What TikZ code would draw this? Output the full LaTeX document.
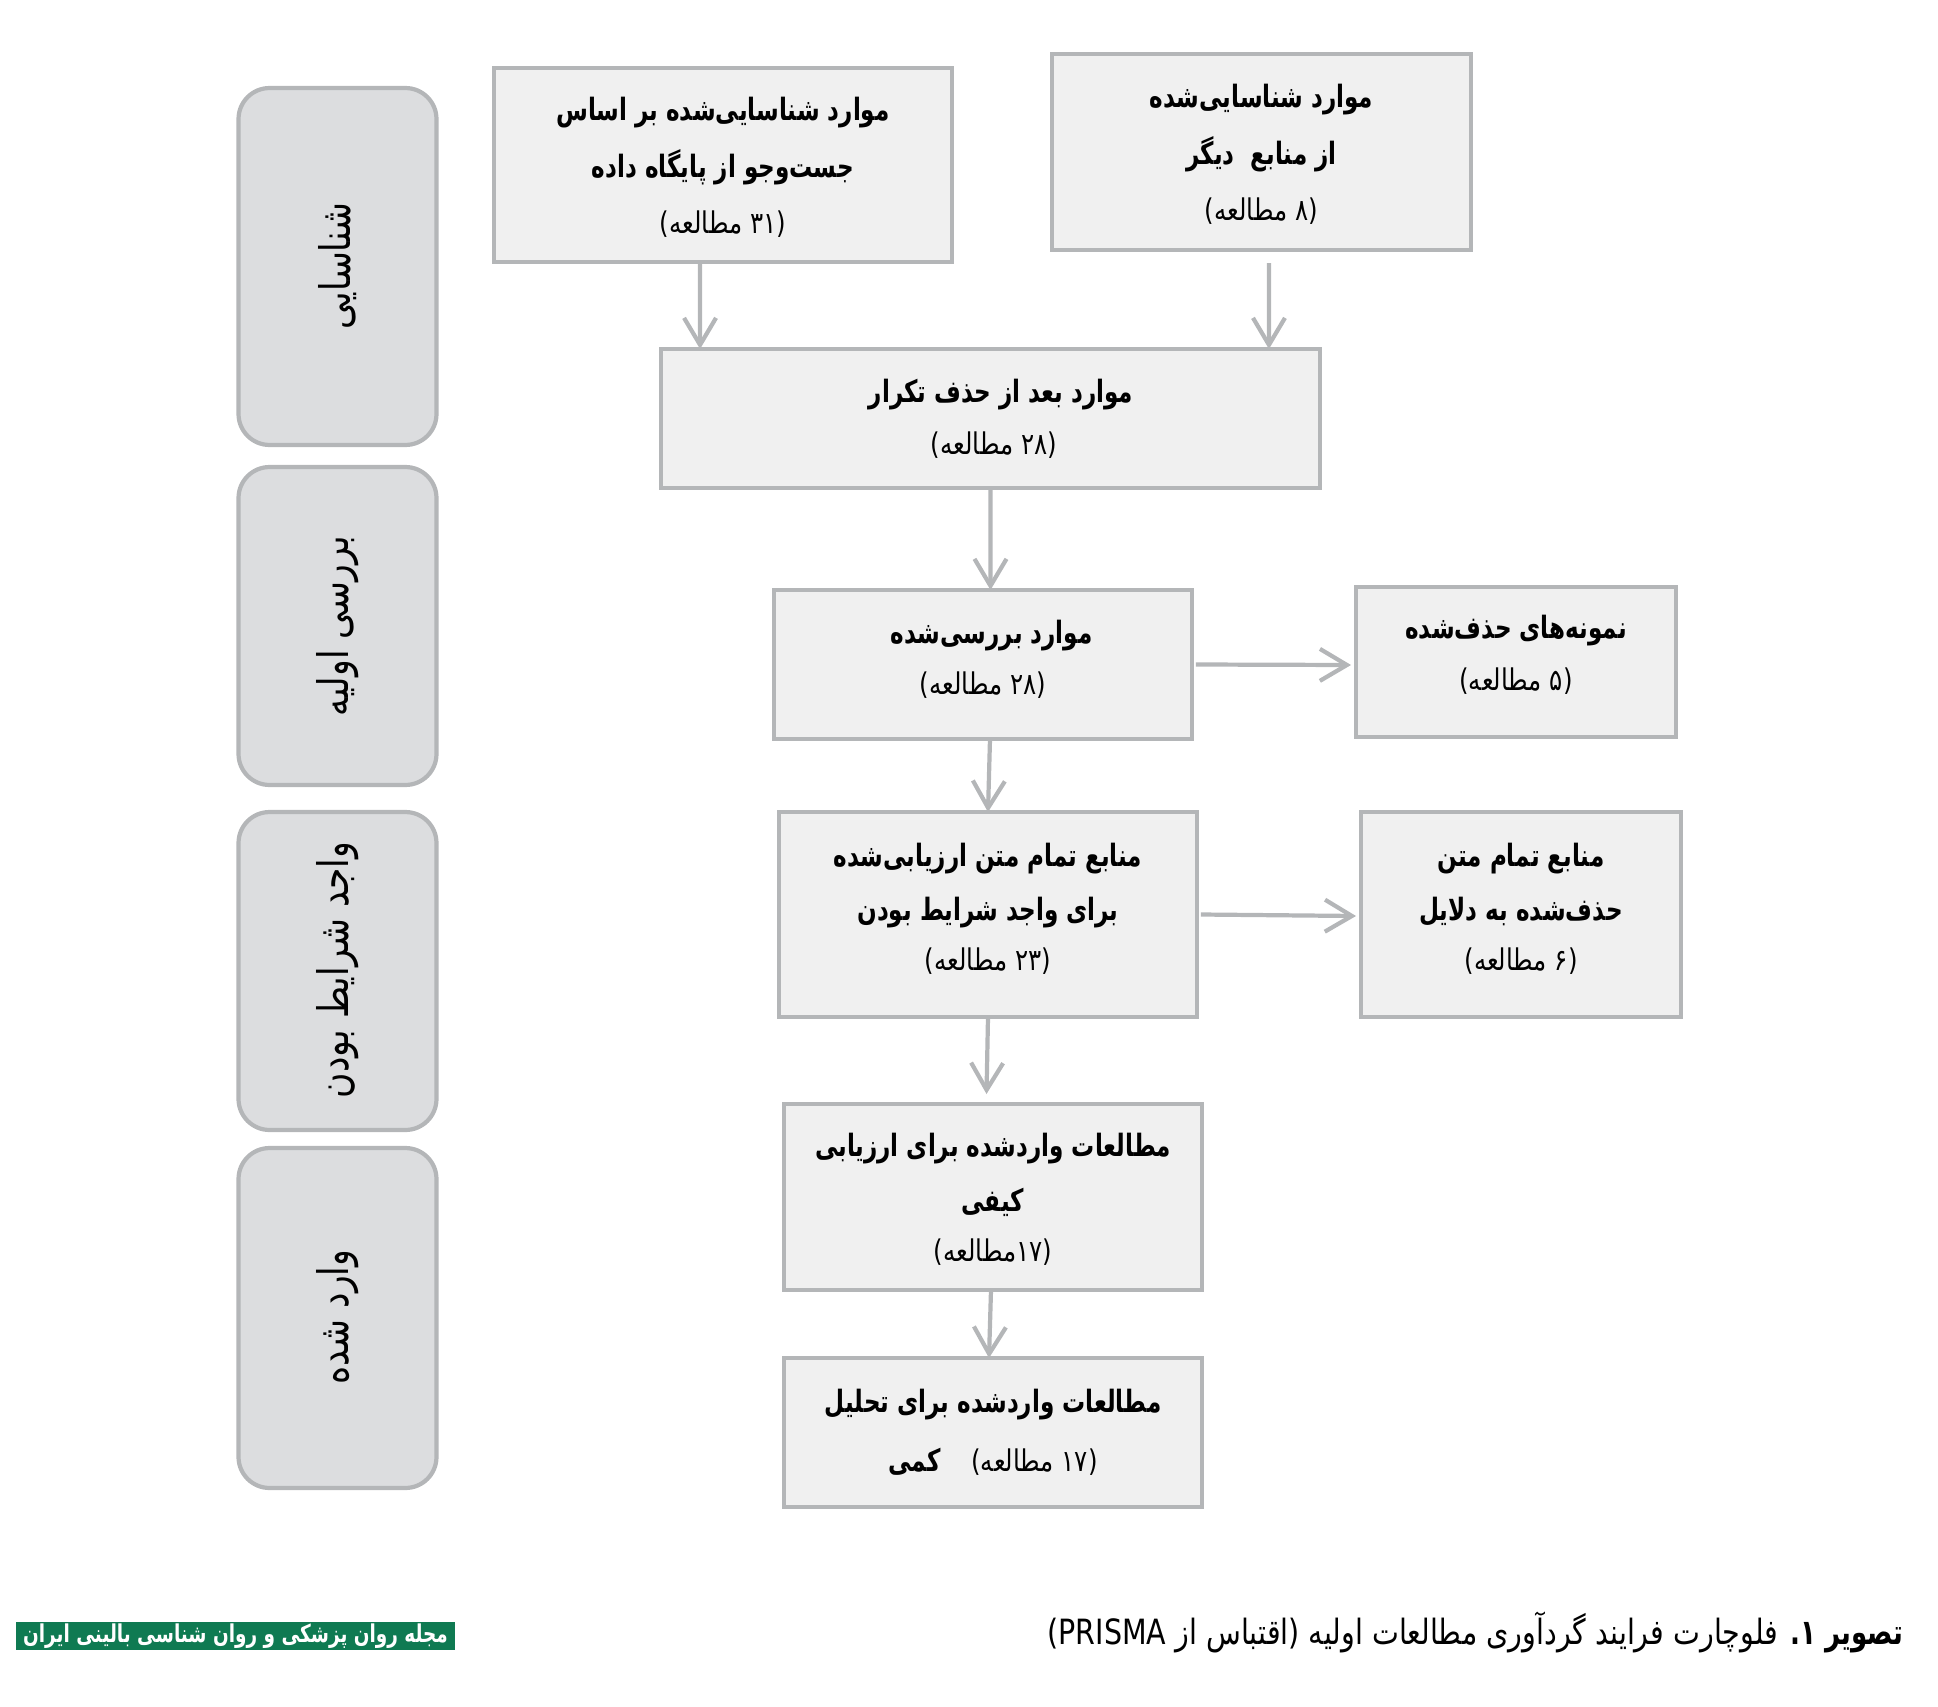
\documentclass[tikz,border=0pt]{standalone}
\usepackage{fontspec}
\usetikzlibrary{arrows.meta}
\TeXXeTstate=1
\newfontfamily\fafont[Script=Arabic,FakeStretch=0.82,BoldFeatures={FakeStretch=0.75}]{DejaVu Sans}
\definecolor{boxline}{HTML}{B4B6B8}
\definecolor{boxfill}{HTML}{F0F0F0}
\definecolor{stagefill}{HTML}{DCDDDF}
\definecolor{stripgreen}{HTML}{0F7A52}
\newcommand{\fa}[1]{\beginR #1\endR}
\newcommand{\cnt}[1]{{\fontsize{17}{15}\fafont\mdseries\beginR #1\endR}}
\newcommand{\num}[1]{\beginL #1\endL{}}
\begin{document}
\begin{tikzpicture}[x=0.02cm,y=-0.02cm,inner sep=0pt,outer sep=0pt]
\tikzstyle{stage}=[draw=boxline,fill=stagefill,line width=2.4pt,rounded corners=0.62cm,minimum width=3.96cm]
\tikzstyle{stagetext}=[font=\fontsize{24}{24}\fafont,rotate=90]
\tikzstyle{box}=[draw=boxline,fill=boxfill,line width=2.4pt,align=center,font=\fontsize{17.5}{17.5}\fafont\bfseries]
\tikzstyle{flow}=[draw=boxline,line width=2.4pt,-{Straight Barb[length=0.54cm,width=0.64cm]}]
\useasboundingbox (0,0) rectangle (1938,1707);

\node[stage,minimum height=7.14cm] (stageid) at (337.5,266.5) {};
\node[stage,minimum height=6.36cm] (stagescreen) at (337.5,626) {};
\node[stage,minimum height=6.36cm] (stageelig) at (337.5,971) {};
\node[stage,minimum height=6.80cm] (stageincl) at (337.5,1318) {};
\node[stagetext] (labelid) at (337.5,266) {\fa{شناسایی}};
\node[stagetext] (labelscreen) at (337.5,626) {\fa{بررسی اولیه}};
\node[stagetext] (labelelig) at (337.5,970) {\fa{واجد شرایط بودن}};
\node[stagetext] (labelincl) at (337.5,1317) {\fa{وارد شده}};

\node[box,text depth=-3pt,minimum width=9.16cm,minimum height=3.88cm] (dbitems) at (723,165) {\fa{موارد شناسایی^^^^200cشده بر اساس}\\[11.5pt]\fa{جست^^^^200cوجو از پایگاه داده}\\[14pt]\cnt{(\num{۳۱} مطالعه)}};
\node[box,text depth=-4.4pt,minimum width=8.38cm,minimum height=3.92cm] (otheritems) at (1261.5,152) {\fa{موارد شناسایی^^^^200cشده}\\[11.5pt]\fa{از منابع\ \ دیگر}\\[14pt]\cnt{(۸ مطالعه)}};
\node[box,minimum width=13.18cm,minimum height=2.78cm] (dedup) at (990.5,418.5) {\hspace*{12pt}\fa{موارد بعد از حذف تکرار}\\[12pt]\hspace*{4pt}\cnt{(\num{۲۸} مطالعه)}};
\node[box,text depth=8.2pt,minimum width=8.36cm,minimum height=2.98cm] (screened) at (983,664.5) {\hspace*{10pt}\fa{موارد بررسی^^^^200cشده}\\[12pt]\cnt{(\num{۲۸} مطالعه)}};
\node[box,text depth=10.4pt,minimum width=6.40cm,minimum height=3.00cm] (removed) at (1516,662) {\fa{نمونه^^^^200cهای حذف^^^^200cشده}\\[12pt]\cnt{(۵ مطالعه)}};
\node[box,text depth=9pt,minimum width=8.36cm,minimum height=4.10cm] (fulltext) at (988,914.5) {\fa{منابع تمام متن ارزیابی^^^^200cشده}\\[12.3pt]\fa{برای واجد شرایط بودن}\\[10.6pt]\cnt{(\num{۲۳} مطالعه)}};
\node[box,text depth=9pt,minimum width=6.40cm,minimum height=4.10cm] (excluded) at (1521,914.5) {\fa{منابع تمام متن}\\[12.3pt]\fa{حذف^^^^200cشده به دلایل}\\[10.6pt]\cnt{(۶ مطالعه)}};
\node[box,text depth=-1.4pt,minimum width=8.36cm,minimum height=3.72cm] (quality) at (993,1197) {\fa{مطالعات واردشده برای ارزیابی}\\[13pt]\fa{کیفی}\\[10.6pt]\cnt{(\num{۱۷}مطالعه)}};
\node[box,minimum width=8.36cm,minimum height=2.98cm] (quant) at (993,1432.5) {\fa{مطالعات واردشده برای تحلیل}\\[15pt]\fa{کمی}\quad\cnt{(\num{۱۷} مطالعه)}};

\coordinate (otherout) at (1269,263);
\draw[flow] ([xshift=-0.46cm]dbitems.south) -- ([xshift=-5.81cm]dedup.north);
\draw[flow] (otherout) -- ([xshift=5.57cm]dedup.north);
\draw[flow] (dedup.south) -- ([xshift=0.15cm]screened.north);
\draw[flow] ([xshift=0.14cm]screened.south) -- (fulltext.north);
\draw[flow] ([xshift=0.08cm]screened.east) -- ([xshift=-0.1cm,yshift=-0.06cm]removed.west);
\draw[flow] ([xshift=0.08cm]fulltext.east) -- ([xshift=-0.1cm,yshift=-0.03cm]excluded.west);
\draw[flow] (fulltext.south) -- ([xshift=-0.13cm,yshift=0.2cm]quality.north);
\draw[flow] ([xshift=-0.04cm]quality.south) -- ([xshift=-0.08cm]quant.north);

\node[anchor=east,font=\fontsize{19.8}{19.8}\fafont] (caption) at (1903,1632) {\beginR{\bfseries تصویر ۱.} فلوچارت فرایند گردآوری مطالعات اولیه (اقتباس از \beginL PRISMA\endL)\endR};
\node[fill=stripgreen,text=white,minimum width=8.78cm,minimum height=0.56cm,font=\fontsize{14}{14}\fafont\bfseries] (journal) at (235.5,1636) {\fa{مجله روان پزشکی و روان شناسی بالینی ایران}};
\end{tikzpicture}
\end{document}
